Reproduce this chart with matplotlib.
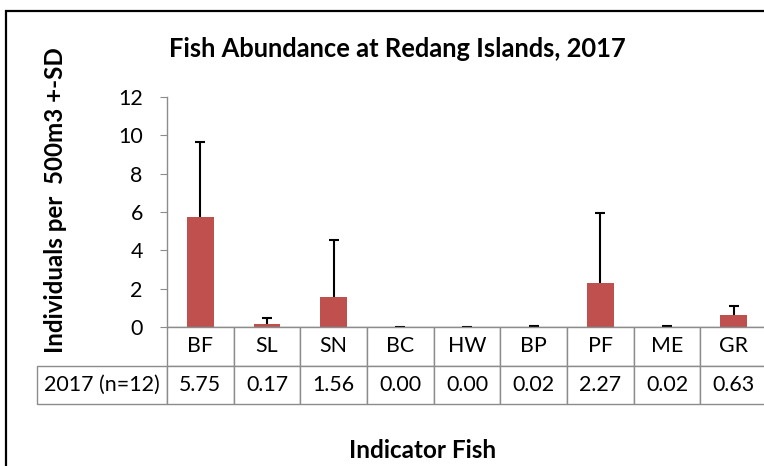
import numpy as np
import matplotlib
matplotlib.use("Agg")
import matplotlib.pyplot as plt
from matplotlib.patches import Rectangle

plt.rcParams['font.family'] = ['Lato', 'DejaVu Sans']

categories = ['BF', 'SL', 'SN', 'BC', 'HW', 'BP', 'PF', 'ME', 'GR']
means = [5.75, 0.17, 1.56, 0.00, 0.00, 0.02, 2.27, 0.02, 0.63]
sd = [3.90, 0.28, 3.00, 0.00, 0.00, 0.05, 3.68, 0.05, 0.47]
row_label = '2017 (n=12)'
yticks = [0, 2, 4, 6, 8, 10, 12]

W, H = 764, 466
fig = plt.figure(figsize=(W / 100, H / 100), dpi=100)
renderer = fig.canvas.get_renderer()


def fit(t, target, vertical=False):
    # scale the font so the text spans target pixels
    bb = t.get_window_extent(renderer)
    span = bb.height if vertical else bb.width
    t.set_fontsize(t.get_fontsize() * target / span)


# chart frame (right/bottom run off the image)
fig.patches.append(Rectangle((6 / W, -0.1), 1.2, (H - 11) / H + 0.1,
                             transform=fig.transFigure, fill=False,
                             edgecolor='black', linewidth=1.6))

ax_left, ax_right = 167, 767
ax_top, ax_bot = 97, 327
ax = fig.add_axes([ax_left / W, (H - ax_bot) / H, (ax_right - ax_left) / W,
                   (ax_bot - ax_top) / H])

x = np.arange(len(categories))
ax.bar(x, means, width=0.4, color='#C0504D', zorder=2)
eb = ax.errorbar(x, means, yerr=[np.zeros(len(sd)), sd], fmt='none',
                 ecolor='black', elinewidth=1.5, capsize=3.9, capthick=1.5,
                 zorder=3)
eb[1][0].set_visible(False)  # only the upper cap

ax.set_xlim(-0.5, len(categories) - 0.5)
ax.set_ylim(0, 12)
ax.set_yticks(yticks)
ax.set_xticks([])
for s in ['top', 'right']:
    ax.spines[s].set_visible(False)
for s in ['left', 'bottom']:
    ax.spines[s].set_color('#8c8c8c')
    ax.spines[s].set_linewidth(1.0)

# data table below the axis
tb_left, tb_right = 37, 767
tb_top, tb_bot = 327, 404
tax = fig.add_axes([tb_left / W, (H - tb_bot) / H, (tb_right - tb_left) / W,
                    (tb_bot - tb_top) / H])
tax.axis('off')
first_w = (ax_left - tb_left) / (tb_right - tb_left)
col_w = (1 - first_w) / len(categories)
cell_text = [[''] + categories, [row_label] + ['%.2f' % v for v in means]]
tbl = tax.table(cellText=cell_text, cellLoc='center', bbox=[0, 0, 1, 1],
                colWidths=[first_w] + [col_w] * len(categories))
tbl.auto_set_font_size(False)
cells = tbl.get_celld()
lab = cells[1, 0].get_text()
lab.set_fontsize(14)
fit(lab, 116)
fs = lab.get_fontsize()
for (r, c), cell in cells.items():
    cell.set_edgecolor('#8c8c8c')
    cell.set_linewidth(1.0)
    cell.get_text().set_fontsize(fs)
    if r == 0 and c == 0:
        cell.visible_edges = 'open'

ax.tick_params(axis='y', direction='out', length=5.4, color='#8c8c8c',
               labelsize=fs, pad=12)

title = fig.text(397 / W, 1 - 57 / H, 'Fish Abundance at Redang Islands, 2017',
                 ha='center', va='baseline', fontsize=16, fontweight='bold')
fit(title, 459)
ylab = fig.text(56 / W, 1 - 200 / H, 'Individuals per  500m3 +-SD', rotation=90,
                ha='center', va='center', fontsize=16, fontweight='bold')
fit(ylab, 305, vertical=True)
xlab = fig.text(423 / W, 1 - 458 / H, 'Indicator Fish', ha='center',
                va='baseline', fontsize=16, fontweight='bold')
fit(xlab, 147)

fig.savefig('out.png', dpi=100)
